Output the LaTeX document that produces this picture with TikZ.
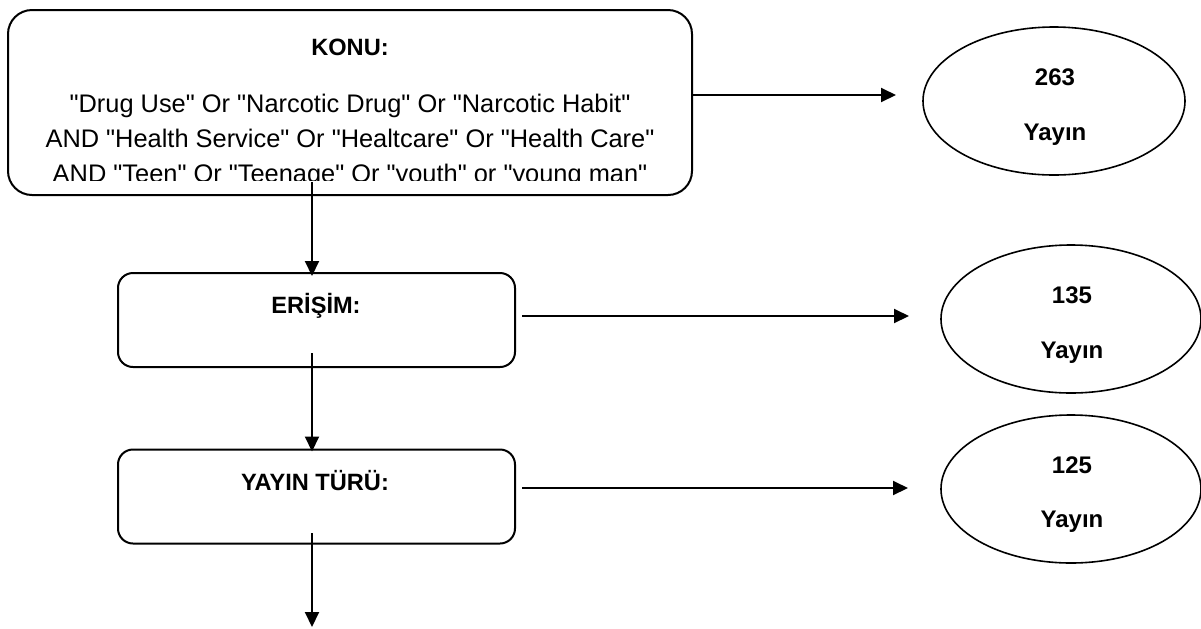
\documentclass[tikz,border=0pt]{standalone}
\usepackage{fontspec}
\setmainfont{Liberation Sans}[Ligatures=TeXOff]
\usetikzlibrary{positioning,arrows.meta,shapes.geometric}

\begin{document}
\begin{tikzpicture}[x=0.5pt, y=-0.5pt, line width=1pt,
                    kutu/.style={draw, line width=1pt, rounded corners=7.5pt, inner sep=0pt,
                                 minimum width=198.5pt, minimum height=47pt},
                    sonuc/.style={draw, ellipse, line width=0.8pt, inner sep=0pt,
                                  minimum width=130pt, minimum height=74pt},
                    baslik/.style={anchor=base, inner sep=0pt, font=\fontsize{11.8}{14}\selectfont\bfseries},
                    sorgu/.style={anchor=base, inner sep=0pt, font=\fontsize{12.7}{17}\selectfont},
                    sayi/.style={anchor=base, inner sep=0pt, font=\fontsize{12}{14}\selectfont\bfseries},
                    ok/.style={-{Triangle[length=7.5pt, width=7pt]}, line width=1pt}]
  \useasboundingbox (0,0) rectangle (1201,628);
  % kutular
  \node[kutu, rounded corners=12pt, minimum width=342pt, minimum height=92.5pt] (konu) at (350,102.5) {};
  \node[baslik] (konuT) at (350,55) {KONU:};
  \begin{scope}
    \clip (0,0) rectangle (1201,180);
    \node[sorgu] (s1) at (350,112) {"Drug Use" Or "Narcotic Drug" Or "Narcotic Habit"};
    \node[sorgu] (s2) at (350,147) {AND "Health Service" Or "Healtcare" Or "Health Care"};
    \node[sorgu] (s3) at (350,182) {AND "Teen" Or "Teenage" Or "youth" or "young man"};
  \end{scope}
  \node[kutu] (erisim) at (316.5,320) {};
  \node[baslik] (erisimT) at (316,313) {ERİŞİM:};
  \node[kutu] (tur) at (316.5,496.5) {};
  \node[baslik] (turT) at (315,490) {YAYIN TÜRÜ:};
  % sonuclar
  \node[sonuc, minimum width=131pt] (e1) at (1054,101) {};
  \node[sayi] (n1) at (1055,85) {263};
  \node[sayi] (y1) at (1055,140) {Yayın};
  \node[sonuc] (e2) at (1071,319) {};
  \node[sayi] (n2) at (1072,303) {135};
  \node[sayi] (y2) at (1072,358) {Yayın};
  \node[sonuc] (e3) at (1071,489) {};
  \node[sayi] (n3) at (1072,473) {125};
  \node[sayi] (y3) at (1072,527) {Yayın};
  % oklar
  \coordinate (k1) at (896,95);
  \coordinate (k2) at (909,316);
  \coordinate (k3) at (908,488);
  \coordinate (d1) at (312,182);
  \coordinate (d2) at (312,353);
  \coordinate (d3) at (312,533);
  \coordinate (alt) at (312,627);
  \draw[ok] (konu.east |- k1) -- (k1);
  \draw[ok] ([xshift=3pt]erisim.east |- k2) -- (k2);
  \draw[ok] ([xshift=3pt]tur.east |- k3) -- (k3);
  \draw[ok, shorten >=-2pt] (d1) -- (d1 |- erisim.north);
  \draw[ok, shorten >=-1.5pt] (d2) -- (d2 |- tur.north);
  \draw[ok] (d3) -- (alt);
\end{tikzpicture}
\end{document}
